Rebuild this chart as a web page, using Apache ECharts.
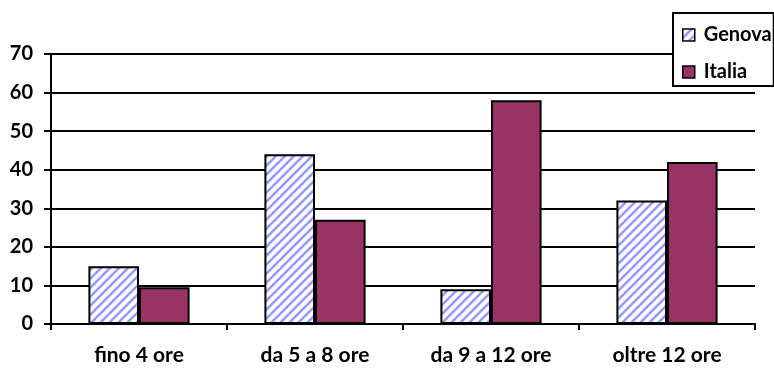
<!DOCTYPE html>
<html>
<head>
<meta charset="utf-8">
<script src="https://cdn.jsdelivr.net/npm/echarts@6/dist/echarts.min.js"></script>
<style>
html,body{margin:0;padding:0;background:#fff;}
#chart{width:774px;height:369px;}
</style>
</head>
<body>
<div id="chart"></div>
<script>
const categories = ['fino 4 ore', 'da 5 a 8 ore', 'da 9 a 12 ore', 'oltre 12 ore'];
const genova = [15, 44, 9, 32];
const italia = [9.5, 27, 58, 42];
const yTicks = [0, 10, 20, 30, 40, 50, 60, 70];

function makePattern() {
  const s = 9;
  const c = document.createElement('canvas');
  c.width = s; c.height = s;
  const g = c.getContext('2d');
  g.fillStyle = '#ffffff';
  g.fillRect(0, 0, s, s);
  g.strokeStyle = '#9999ff';
  g.lineWidth = 2.6;
  for (let k = -1; k <= 1; k++) {
    g.beginPath();
    g.moveTo(k * s - 1, s + 1);
    g.lineTo(k * s + s + 1, -1);
    g.stroke();
  }
  return c;
}

const font = 'Lato';
const chart = echarts.init(document.getElementById('chart'), null, {renderer: 'canvas'});
chart.setOption({
  animation: false,
  backgroundColor: '#ffffff',
  grid: {left: 51, right: 19, top: 54, bottom: 45, containLabel: false},
  legend: {
    orient: 'vertical',
    left: 673, top: 13,
    padding: [12, 2, 4, 9],
    itemGap: 17,
    itemWidth: 12, itemHeight: 12,
    backgroundColor: '#ffffff',
    borderColor: '#000000', borderWidth: 2,
    icon: 'rect',
    itemStyle: {borderColor: '#000', borderWidth: 1.5},
    textStyle: {fontFamily: font, fontWeight: 'bold', fontSize: 20, color: '#000', padding: [0,0,0,4]},
    data: ['Genova', 'Italia']
  },
  xAxis: {
    type: 'category',
    data: categories,
    boundaryGap: true,
    axisLine: {lineStyle: {color: '#000', width: 2}},
    axisTick: {show: true, inside: false, length: 6, alignWithLabel: false, lineStyle: {color: '#000', width: 2}},
    axisLabel: {margin: 21, fontFamily: font, fontWeight: 'bold', fontSize: 21, color: '#000'},
    splitLine: {show: false}
  },
  yAxis: {
    type: 'value',
    min: yTicks[0], max: yTicks[yTicks.length - 1], interval: 10,
    axisLine: {show: true, lineStyle: {color: '#000', width: 2}},
    axisTick: {show: true, length: 7, lineStyle: {color: '#000', width: 2}},
    axisLabel: {margin: 18, fontFamily: font, fontWeight: 'bold', fontSize: 20, color: '#000'},
    splitLine: {show: true, lineStyle: {color: '#000', width: 2}}
  },
  series: [
    {
      name: 'Genova', type: 'bar', data: genova,
      barGap: '0%', barCategoryGap: '42.5%',
      itemStyle: {color: {image: makePattern(), repeat: 'repeat'}, borderColor: '#000', borderWidth: 2}
    },
    {
      name: 'Italia', type: 'bar', data: italia,
      barGap: '0%', barCategoryGap: '42.5%',
      itemStyle: {color: '#993366', borderColor: '#000', borderWidth: 2}
    }
  ]
});
</script>
</body>
</html>
